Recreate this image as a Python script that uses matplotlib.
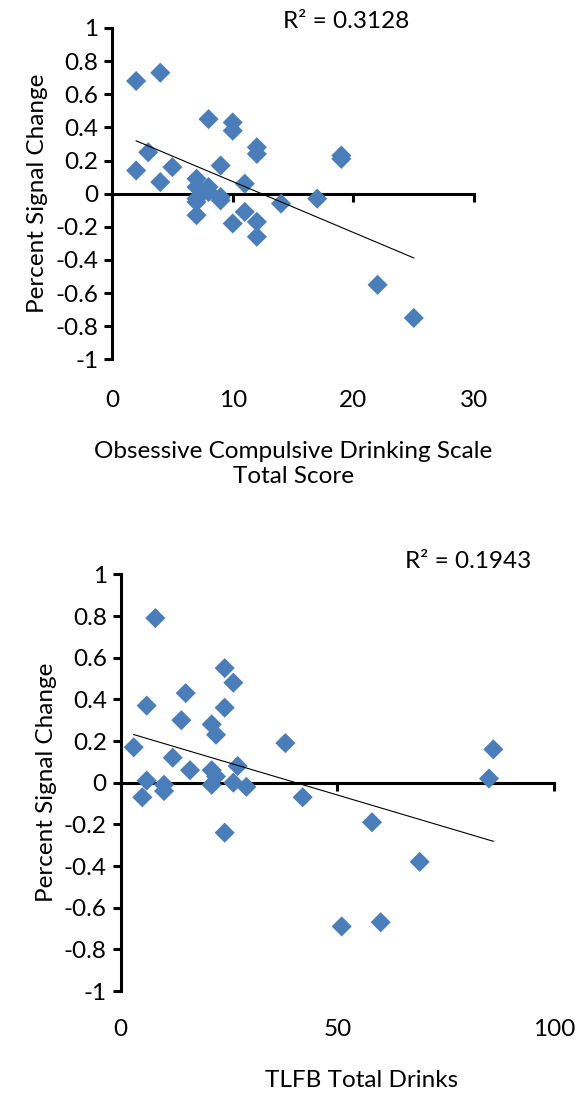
import numpy as np
import matplotlib
matplotlib.use("Agg")
import matplotlib.pyplot as plt
from matplotlib.ticker import FuncFormatter

plt.rcParams['font.family'] = ['Lato', 'DejaVu Sans']
plt.rcParams['axes.unicode_minus'] = False

# --- data ---
ocds_score = [2, 4, 2, 3, 4, 5, 8, 10, 10, 12, 12, 9, 11, 7, 7, 8, 8, 7, 7, 9, 9, 7,
              10, 11, 12, 12, 14, 17, 19, 19, 22, 25]
ocds_psc = [0.68, 0.73, 0.14, 0.25, 0.07, 0.16, 0.45, 0.43, 0.38, 0.28, 0.24, 0.17,
            0.06, 0.09, 0.04, 0.04, 0.01, -0.03, -0.05, -0.02, -0.04, -0.13,
            -0.18, -0.11, -0.17, -0.26, -0.06, -0.03, 0.23, 0.21, -0.55, -0.75]
ocds_r2 = "R² = 0.3128"

tlfb_drinks = [8, 24, 26, 15, 6, 24, 14, 21, 22, 3, 38, 86, 85, 12, 16, 21, 22, 27,
               6, 10, 10, 5, 21, 26, 29, 42, 24, 58, 69, 51, 60]
tlfb_psc = [0.79, 0.55, 0.48, 0.43, 0.37, 0.36, 0.30, 0.28, 0.23, 0.17, 0.19, 0.16,
            0.02, 0.12, 0.06, 0.06, 0.03, 0.08, 0.01, -0.01, -0.04, -0.07, -0.01,
            0.0, -0.02, -0.07, -0.24, -0.19, -0.38, -0.69, -0.67]
tlfb_r2 = "R² = 0.1943"

y_ticks = [-1, -0.8, -0.6, -0.4, -0.2, 0, 0.2, 0.4, 0.6, 0.8, 1]

blue = "#4A7EBB"
fs = 17.5

fig = plt.figure(figsize=(5.78, 10.93), dpi=100)
ax_top = fig.add_axes([0.1938, 0.6712, 0.6265, 0.3032])
ax_bot = fig.add_axes([0.2088, 0.0933, 0.7497, 0.3812])


def draw_panel(ax, x, y, xmax, xstep, xlabel, r2_text, r2_pos, tpad, lpad, lab_x):
    x = np.array(x, dtype=float)
    y = np.array(y, dtype=float)
    ax.scatter(x, y, marker='D', s=105, color=blue, edgecolors='none',
               zorder=3, clip_on=False)

    # linear trend line, like Excel's
    k, b = np.polyfit(x, y, 1)
    xs = np.array([x.min(), x.max()])
    ax.plot(xs, k * xs + b, color='black', lw=0.8, zorder=4)

    ax.set_xlim(0, xmax)
    ax.set_ylim(-1, 1)
    ax.set_xticks(np.arange(0, xmax + 1, xstep))
    ax.set_yticks(y_ticks)
    ax.yaxis.set_major_formatter(FuncFormatter(lambda v, p: '%g' % round(v, 1)))

    for s in ['top', 'right']:
        ax.spines[s].set_visible(False)
    ax.spines['left'].set_linewidth(2.2)
    ax.spines['bottom'].set_linewidth(2.2)
    ax.spines['bottom'].set_position(('data', 0))

    ax.tick_params(axis='x', direction='out', length=6, width=2.2, labelbottom=False)
    ax.tick_params(axis='y', direction='out', length=6, width=2.2, labelsize=fs,
                   pad=4)

    # labels sit at the bottom of the plot area, axis line crosses at 0
    sec = ax.secondary_xaxis(0)
    sec.spines['bottom'].set_visible(False)
    sec.set_xticks(np.arange(0, xmax + 1, xstep))
    sec.tick_params(length=0, pad=tpad, labelsize=fs)
    sec.set_xlabel(xlabel, fontsize=fs, labelpad=lpad, linespacing=1.2)
    sec.xaxis.label.set_x(lab_x)

    ax.set_ylabel('Percent Signal Change', fontsize=fs, labelpad=5)
    fig.text(r2_pos[0], r2_pos[1], r2_text, fontsize=fs, ha='center', va='center')


draw_panel(ax_top, ocds_score, ocds_psc, 30, 10,
           'Obsessive Compulsive Drinking Scale\nTotal Score', ocds_r2,
           (346 / 578, 1 - 21 / 1093), 22, 22, 0.5)
draw_panel(ax_bot, tlfb_drinks, tlfb_psc, 100, 50,
           'TLFB Total Drinks', tlfb_r2,
           (468 / 578, 1 - 561 / 1093), 20, 22, 0.557)

plt.savefig('out.png', dpi=100)
